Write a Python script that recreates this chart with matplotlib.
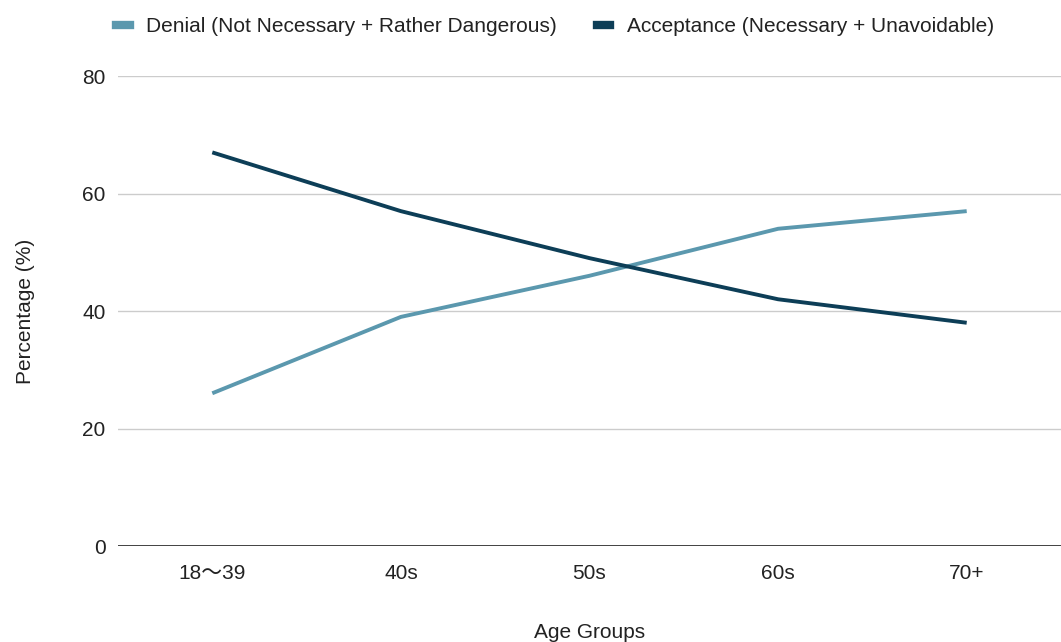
import matplotlib
matplotlib.use("Agg")
from matplotlib import pyplot as plt
from matplotlib.lines import Line2D

plt.rcParams['font.family'] = ['Liberation Sans', 'Noto Sans CJK JP', 'DejaVu Sans']

age_groups = ["18～39", "40s", "50s", "60s", "70+"]
denial = [26, 39, 46, 54, 57]
acceptance = [67, 57, 49, 42, 38]
y_ticks = [0, 20, 40, 60, 80]

denial_color = "#5b98ae"
accept_color = "#0d3e57"

fig = plt.figure(figsize=(10.61, 6.42), dpi=100)
ax = fig.add_axes([0.1112, 0.1495, 0.8888, 0.7321])

x = list(range(len(age_groups)))
ax.plot(x, denial, color=denial_color, lw=2.8, solid_capstyle='butt')
ax.plot(x, acceptance, color=accept_color, lw=2.8, solid_capstyle='butt')

ax.set_xlim(-0.5, len(age_groups) - 0.5)
ax.set_ylim(0, 80)
ax.set_yticks(y_ticks)
ax.set_xticks(x)
ax.set_xticklabels(age_groups)
ax.tick_params(length=0, labelsize=15, colors="#222222")
ax.tick_params(axis='x', pad=13)
ax.tick_params(axis='y', pad=9)
for t in y_ticks[1:]:
    ax.axhline(t, color="#cccccc", lw=1, zorder=0)
ax.axhline(0, color="#333333", lw=1.3, zorder=1)
for s in ax.spines.values():
    s.set_visible(False)

ax.set_xlabel("Age Groups", fontsize=15, color="#222222", labelpad=29)
ax.set_ylabel("Percentage (%)", fontsize=15, color="#222222", labelpad=34)

handles = [Line2D([], [], color=denial_color, lw=6),
           Line2D([], [], color=accept_color, lw=6)]
labels = ["Denial (Not Necessary + Rather Dangerous)",
          "Acceptance (Necessary + Unavoidable)"]
fig.legend(handles, labels, loc='center', bbox_to_anchor=(0.523, 0.959), ncol=2,
           frameon=False, fontsize=15, handlelength=0.65, handletextpad=0.8,
           columnspacing=1.9, labelcolor="#222222")

fig.savefig("out.png", dpi=100)
